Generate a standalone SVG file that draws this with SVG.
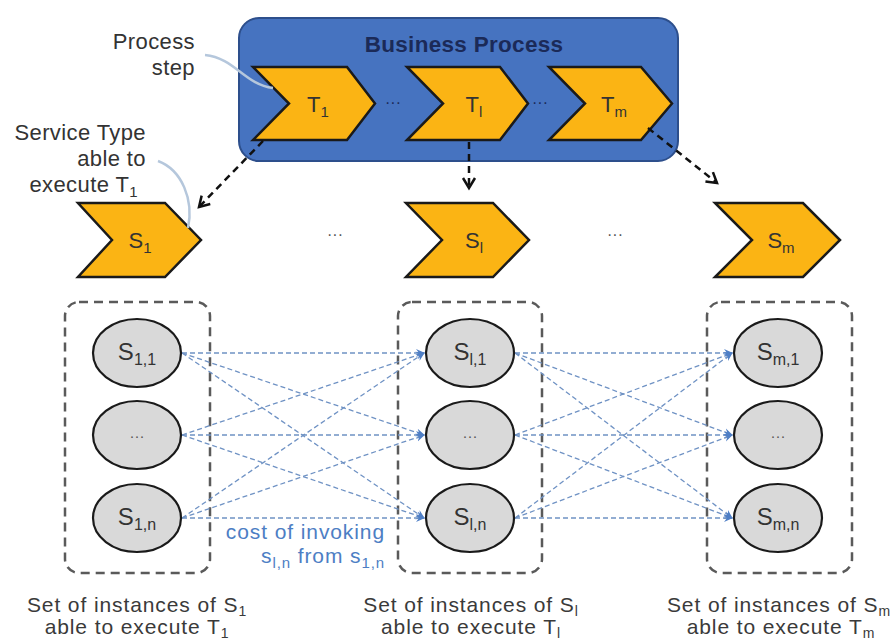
<svg xmlns="http://www.w3.org/2000/svg" width="896" height="641" viewBox="0 0 896 641">
  <defs>
    <style>
      .lbl { font-family: "Liberation Sans", Arial, sans-serif; fill: #333; }
      .cap { font-family: "Liberation Sans", Arial, sans-serif; fill: #3a3a3a; letter-spacing: 0.9px; }
      .chev { fill: #fbb414; stroke: #1a1a1a; stroke-width: 2.5; stroke-linejoin: miter; }
      .inst { fill: #d9d9d9; stroke: #1a1a1a; stroke-width: 2.2; }
      .set { fill: none; stroke: #5a5a5a; stroke-width: 2.5; stroke-dasharray: 9 6; }
      .cost { fill: none; stroke: #6f92c4; stroke-width: 1.3; stroke-dasharray: 5 3; marker-end: url(#blueHead); }
      .map { fill: none; stroke: #111; stroke-width: 2.5; stroke-dasharray: 7 5; marker-end: url(#blackHead); }
      .note { fill: none; stroke: #b5c7dc; stroke-width: 2.5; }
    </style>
    <marker id="blueHead" markerWidth="10" markerHeight="10" refX="8" refY="5" orient="auto" markerUnits="userSpaceOnUse">
      <path d="M0,1 L9,5 L0,9 L3,5 Z" fill="#4f7fc6"/>
    </marker>
    <marker id="blackHead" markerWidth="16" markerHeight="16" refX="12" refY="8" orient="auto" markerUnits="userSpaceOnUse">
      <path d="M2,2 L12,8 L2,14" fill="none" stroke="#111" stroke-width="2.5"/>
    </marker>
  </defs>

  <rect width="896" height="641" fill="#ffffff"/>

  <!-- business process container -->
  <g id="business-process">
    <rect x="239" y="18" width="439" height="143" rx="20" ry="20" fill="#4673c0" stroke="#2d4f8c" stroke-width="2"/>
    <text x="464" y="52" text-anchor="middle" font-family="'Liberation Sans', Arial, sans-serif" font-weight="bold" font-size="22.5" fill="#1b2a58" letter-spacing="0.3">Business Process</text>
    <text x="393" y="108" text-anchor="middle" class="lbl" font-size="16" style="fill:#1b2a58">···</text>
    <text x="540" y="108" text-anchor="middle" class="lbl" font-size="16" style="fill:#1b2a58">···</text>
  </g>

  <!-- process steps -->
  <g id="T1">
    <path class="chev" d="M253,67 L347,67 L375,103.5 L347,140 L253,140 L289,103.5 Z"/>
    <text x="318" y="112" text-anchor="middle" class="lbl" font-size="22">T<tspan font-size="15" dy="5">1</tspan></text>
  </g>
  <g id="Tl">
    <path class="chev" d="M407,67 L500,67 L528,103.5 L500,140 L407,140 L443,103.5 Z"/>
    <text x="474" y="112" text-anchor="middle" class="lbl" font-size="22">T<tspan font-size="15" dy="5">l</tspan></text>
  </g>
  <g id="Tm">
    <path class="chev" d="M549,67 L641,67 L672,103.5 L641,140 L549,140 L585,103.5 Z"/>
    <text x="614" y="112" text-anchor="middle" class="lbl" font-size="22">T<tspan font-size="15" dy="5">m</tspan></text>
  </g>

  <!-- service types -->
  <g id="S1">
    <path class="chev" d="M78,203 L165,203 L201,240 L165,277 L78,277 L112,240 Z"/>
    <text x="140" y="248" text-anchor="middle" class="lbl" font-size="22">S<tspan font-size="15" dy="5">1</tspan></text>
  </g>
  <g id="Sl">
    <path class="chev" d="M406,203 L493,203 L529,240 L493,277 L406,277 L442,240 Z"/>
    <text x="474" y="248" text-anchor="middle" class="lbl" font-size="22">S<tspan font-size="15" dy="5">l</tspan></text>
  </g>
  <g id="Sm">
    <path class="chev" d="M715,203 L803,203 L840,240 L803,277 L715,277 L752,240 Z"/>
    <text x="781" y="248" text-anchor="middle" class="lbl" font-size="22">S<tspan font-size="15" dy="5">m</tspan></text>
  </g>
  <text x="335" y="240" text-anchor="middle" class="lbl" font-size="16" style="fill:#555">···</text>
  <text x="615" y="240" text-anchor="middle" class="lbl" font-size="16" style="fill:#555">···</text>

  <!-- instance sets -->
  <g id="set1">
    <rect class="set" x="65" y="302" width="145" height="271" rx="14" ry="14"/>
  </g>
  <g id="setl">
    <rect class="set" x="398" y="302" width="144" height="271" rx="14" ry="14"/>
  </g>
  <g id="setm">
    <rect class="set" x="707" y="302" width="145" height="271" rx="14" ry="14"/>
  </g>

  <!-- connectors -->
  <g id="connectors">
    <path class="map" d="M263,141 L199,207"/>
    <path class="map" d="M469,142 L469,188"/>
    <path class="map" d="M648,128 L717,183"/>

    <!-- column 1 to column l -->
    <path class="cost" d="M182,353 L424,353"/>
    <path class="cost" d="M182,353 L424,435"/>
    <path class="cost" d="M182,353 L424,518"/>
    <path class="cost" d="M182,435 L424,353"/>
    <path class="cost" d="M182,435 L424,435"/>
    <path class="cost" d="M182,435 L424,518"/>
    <path class="cost" d="M182,518 L424,353"/>
    <path class="cost" d="M182,518 L424,435"/>
    <path class="cost" d="M182,518 L424,518"/>

    <!-- column l to column m -->
    <path class="cost" d="M515,353 L732,353"/>
    <path class="cost" d="M515,353 L732,435"/>
    <path class="cost" d="M515,353 L732,518"/>
    <path class="cost" d="M515,435 L732,353"/>
    <path class="cost" d="M515,435 L732,435"/>
    <path class="cost" d="M515,435 L732,518"/>
    <path class="cost" d="M515,518 L732,353"/>
    <path class="cost" d="M515,518 L732,435"/>
    <path class="cost" d="M515,518 L732,518"/>

    <!-- annotation leaders -->
    <path class="note" d="M205,55 C235,58 244,84 273,88"/>
    <path class="note" d="M158,161 C182,170 194,200 188,228"/>
  </g>

  <!-- instances -->
  <g id="s11">
    <ellipse class="inst" cx="137" cy="353" rx="44" ry="34"/>
    <text x="137" y="360" text-anchor="middle" class="lbl" font-size="24">S<tspan font-size="16" dy="5">1,1</tspan></text>
  </g>
  <g id="s1x">
    <ellipse class="inst" cx="137" cy="435" rx="44" ry="34"/>
    <text x="137" y="441" text-anchor="middle" class="lbl" font-size="15" style="fill:#555">···</text>
  </g>
  <g id="s1n">
    <ellipse class="inst" cx="137" cy="518" rx="44" ry="34"/>
    <text x="137" y="525" text-anchor="middle" class="lbl" font-size="24">S<tspan font-size="16" dy="5">1,n</tspan></text>
  </g>
  <g id="sl1">
    <ellipse class="inst" cx="470" cy="353" rx="44" ry="34"/>
    <text x="470" y="360" text-anchor="middle" class="lbl" font-size="24">S<tspan font-size="16" dy="5">l,1</tspan></text>
  </g>
  <g id="slx">
    <ellipse class="inst" cx="470" cy="435" rx="44" ry="34"/>
    <text x="470" y="441" text-anchor="middle" class="lbl" font-size="15" style="fill:#555">···</text>
  </g>
  <g id="sln">
    <ellipse class="inst" cx="470" cy="518" rx="44" ry="34"/>
    <text x="470" y="525" text-anchor="middle" class="lbl" font-size="24">S<tspan font-size="16" dy="5">l,n</tspan></text>
  </g>
  <g id="sm1">
    <ellipse class="inst" cx="778" cy="353" rx="44" ry="34"/>
    <text x="778" y="360" text-anchor="middle" class="lbl" font-size="24">S<tspan font-size="16" dy="5">m,1</tspan></text>
  </g>
  <g id="smx">
    <ellipse class="inst" cx="778" cy="435" rx="44" ry="34"/>
    <text x="778" y="441" text-anchor="middle" class="lbl" font-size="15" style="fill:#555">···</text>
  </g>
  <g id="smn">
    <ellipse class="inst" cx="778" cy="518" rx="44" ry="34"/>
    <text x="778" y="525" text-anchor="middle" class="lbl" font-size="24">S<tspan font-size="16" dy="5">m,n</tspan></text>
  </g>

  <!-- annotations -->
  <g id="note-process-step" class="lbl" font-size="22" text-anchor="end" letter-spacing="0.4">
    <text x="195" y="49">Process</text>
    <text x="195" y="75">step</text>
  </g>
  <g id="note-service-type" class="lbl" font-size="22" text-anchor="end" letter-spacing="0.4">
    <text x="146" y="140">Service Type</text>
    <text x="146" y="166">able to</text>
    <text x="138" y="192">execute T<tspan font-size="15" dy="5">1</tspan></text>
  </g>
  <g id="note-cost" font-family="'Liberation Sans', Arial, sans-serif" fill="#4d7ec4" text-anchor="end">
    <text x="385" y="539" font-size="21" letter-spacing="0.9">cost of invoking</text>
    <text x="385" y="563" font-size="21" letter-spacing="0.9">s<tspan font-size="15" dy="5">l,n</tspan><tspan dy="-5"> from s</tspan><tspan font-size="15" dy="5">1,n</tspan></text>
  </g>

  <!-- set captions -->
  <g id="caption-1" class="cap" font-size="21" text-anchor="middle">
    <text x="137" y="612">Set of instances of S<tspan font-size="14" dy="4">1</tspan></text>
    <text x="137" y="634">able to execute T<tspan font-size="14" dy="4">1</tspan></text>
  </g>
  <g id="caption-l" class="cap" font-size="21" text-anchor="middle">
    <text x="471" y="612">Set of instances of S<tspan font-size="14" dy="4">l</tspan></text>
    <text x="471" y="634">able to execute T<tspan font-size="14" dy="4">l</tspan></text>
  </g>
  <g id="caption-m" class="cap" font-size="21" text-anchor="middle">
    <text x="779" y="612">Set of instances of S<tspan font-size="14" dy="4">m</tspan></text>
    <text x="781" y="634">able to execute T<tspan font-size="14" dy="4">m</tspan></text>
  </g>
</svg>
